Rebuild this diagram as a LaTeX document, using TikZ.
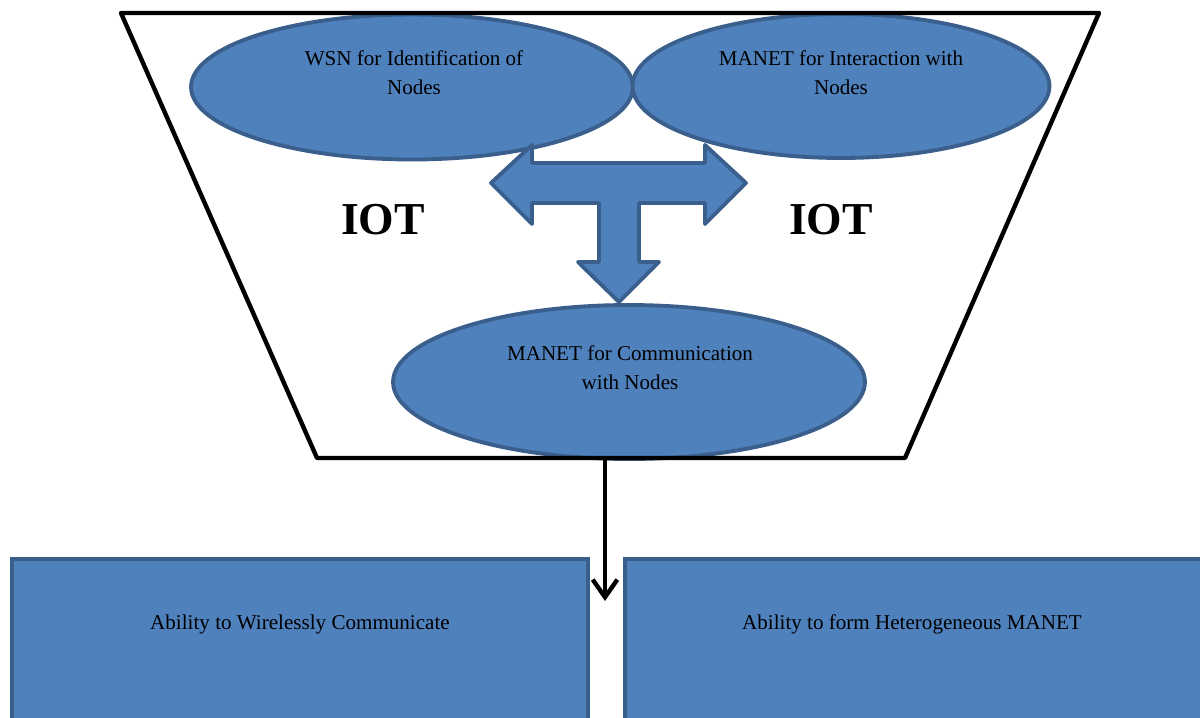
\documentclass[tikz,border=0pt]{standalone}
\usepackage{fontspec}
\setmainfont{Liberation Serif}
\usetikzlibrary{shapes.geometric,arrows.meta}
\definecolor{ofill}{HTML}{4F81BD}
\definecolor{oline}{HTML}{3A5F8D}
\begin{document}
\begin{tikzpicture}[x=0.02cm,y=-0.02cm,
  blob/.style={ellipse,draw=oline,fill=ofill,line width=2.2pt,inner sep=0pt},
  boxshape/.style={draw=oline,fill=ofill,line width=2.3pt},
  lbl/.style={font=\fontsize{12}{16.5}\selectfont,align=center,text=black,inner sep=0pt},
  big/.style={font=\fontsize{26}{30}\selectfont\bfseries,inner sep=0pt},
  frame/.style={draw=black,line width=2.5pt,line join=round},
  flow/.style={draw=black,line width=2.5pt,-{Straight Barb[length=10pt,width=14pt,line width=2.5pt]}}
]
\useasboundingbox (0,0) rectangle (1200,717);
\begin{scope}
\clip (0,0) rectangle (1200,717);
% frame fill
\path[fill=white] (121,13) -- (1099,13) -- (905,458) -- (317,458) -- cycle;
% top ellipses
\node[blob,minimum width=8.84cm,minimum height=2.9cm] (wsn) at (412,87) {};
\node[blob,minimum width=8.34cm,minimum height=2.88cm] (mint) at (841,86) {};
% T-shaped three-way arrow
\filldraw[fill=ofill,draw=oline,line width=2.2pt,line join=round]
  (491,183) -- (532,145) -- (532,163) -- (705,163) -- (705,145) -- (746,183)
  -- (705,224) -- (705,203) -- (639,203) -- (639,262) -- (659,262) -- (619,302)
  -- (578,262) -- (599,262) -- (599,203) -- (532,203) -- (532,224) -- cycle;
% bottom ellipse
\node[blob,minimum width=9.44cm,minimum height=3.08cm] (mcom) at (629,382) {};
% frame outline
\draw[frame] (121,13) -- (1099,13) -- (905,458) -- (317,458) -- cycle;
% texts
\node[lbl] (t1) at (414,73) {WSN for Identification of\\Nodes};
\node[lbl] (t2) at (841,73) {MANET for Interaction with\\Nodes};
\node[lbl] (t3) at (630,368) {MANET for Communication\\with Nodes};
\node[big] (iotl) at (383,220) {IOT};
\node[big] (iotr) at (831,220) {IOT};
% boxes
\node[boxshape,minimum width=11.52cm,minimum height=4cm,anchor=north west] (boxl) at (10,557) {};
\node[boxshape,minimum width=11.9cm,minimum height=4cm,anchor=north west] (boxr) at (623,557) {};
\node[lbl] (tl) at (300,624) {Ability to Wirelessly Communicate};
\node[lbl] (tr) at (912,624) {Ability to form Heterogeneous MANET};
% connector
\coordinate (cs) at (605,458);
\coordinate (ce) at (605,601);
\draw[flow] (cs) -- (ce);
\end{scope}
\end{tikzpicture}
\end{document}
